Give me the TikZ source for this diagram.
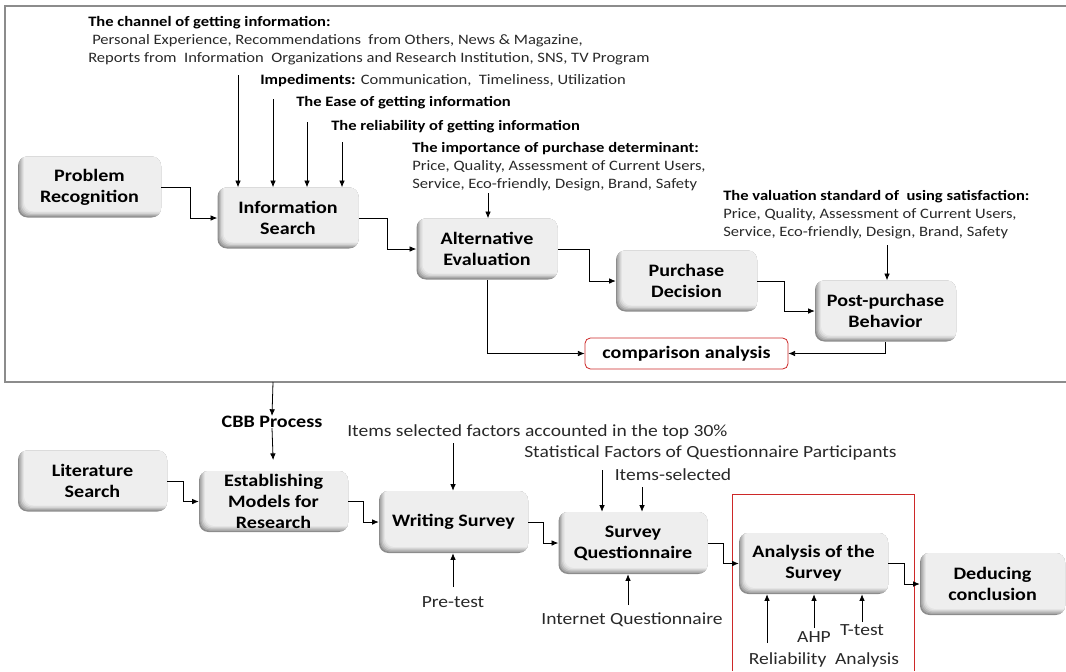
\documentclass[tikz,border=0pt]{standalone}
\usepackage{fontspec}
\setmainfont{Carlito}[FakeStretch=1.15]
\usetikzlibrary{arrows.meta,calc}
\definecolor{framegray}{RGB}{140,140,140}
\definecolor{redline}{RGB}{205,40,40}
\definecolor{anntext}{RGB}{40,40,40}
\newcommand\myBoxFont{\fontsize{13.1pt}{15.6pt}\selectfont\bfseries}
\newcommand\myAnnFont{\fontsize{10.8pt}{13.6pt}\selectfont}
\newcommand\myBigAnnFont{\fontsize{12.75pt}{16pt}\selectfont}
\begin{document}
\begin{tikzpicture}[x=0.75pt,y=-0.75pt,
  stepbox/.style={rounded corners=7pt, fill=black!45, inner sep=0pt, align=center,
    font=\myBoxFont, text=black,
    path picture={
      \foreach \k/\c in {1.2/34,2.4/25,3.6/17,4.8/11,6/6.5}{
        \fill[black!\c, rounded corners=7pt]
          ($(path picture bounding box.south west)+(\k,-\k)$) rectangle
          ($(path picture bounding box.north east)+(30,-30)$);
      }
    }},
  topbox/.style={stepbox, minimum width=105.75pt, minimum height=45.75pt},
  botbox/.style={stepbox, minimum width=111.75pt, minimum height=45.75pt},
  redbox/.style={draw=redline, line width=0.6pt, rounded corners=4pt, fill=white,
    minimum width=152.25pt, minimum height=23.25pt, font=\myBoxFont, inner sep=0pt},
  ann/.style={inner sep=0pt, font=\myAnnFont, text=anntext, align=left},
  bigann/.style={inner sep=0pt, font=\myBigAnnFont, text=anntext},
  arr/.style={draw=black, line width=0.6pt, -{Latex[length=5pt,width=4.2pt]}},
  frameline/.style={draw=framegray, line width=1pt}
]
\useasboundingbox (0,0) rectangle (1066,671);

% outer frame of the upper part
\draw[frameline] (1066,6) -- (5,6) -- (5,382) -- (1066,382);
\coordinate (cbbtop) at (273,382);

% upper boxes
\node[topbox, minimum width=107.25pt] (prob) at (89.5,187) {Problem\\Recognition};
\node[topbox] (info) at (288,218) {Information\\Search};
\node[topbox] (alt) at (487,249) {Alternative\\Evaluation};
\node[topbox] (pur) at (686.5,281) {Purchase\\Decision};
\node[topbox] (post) at (885.5,311) {Post-purchase\\Behavior};
\node[redbox] (comp) at (686.5,353.5) {comparison analysis};

% upper annotations
\node[ann, anchor=west] (chan) at (88,40.5)
  {\textbf{\textcolor{black}{The channel of getting information:}}\\
   \hspace*{3pt}Personal Experience, Recommendations\ \ from Others, News \& Magazine,\\
   Reports from\ \ Information\ \ Organizations and Research Institution, SNS, TV Program};
\node[ann, anchor=west] (imped) at (260,81)
  {\textbf{\textcolor{black}{Impediments:}} Communication,\ \ Timeliness, Utilization};
\node[ann, anchor=west, font=\myAnnFont\bfseries, text=black] (ease) at (296,103)
  {The Ease of getting information};
\node[ann, anchor=west, font=\myAnnFont\bfseries, text=black] (relia) at (331,127)
  {The reliability of getting information};
\node[ann, anchor=west] (impo) at (412,167)
  {\textbf{\textcolor{black}{The importance of purchase determinant:}}\\
   Price, Quality, Assessment of Current Users,\\
   Service, Eco-friendly, Design, Brand, Safety};
\node[ann, anchor=west] (valu) at (723,215)
  {\textbf{\textcolor{black}{The valuation standard of\ \ using satisfaction:}}\\
   Price, Quality, Assessment of Current Users,\\
   Service, Eco-friendly, Design, Brand, Safety};

% arrow start points (upper)
\coordinate (a1) at (238,75);
\coordinate (a2) at (273,99);
\coordinate (a3) at (307,122);
\coordinate (a4) at (342,142);
\coordinate (impa) at (488,193);
\coordinate (vala) at (887,245);

\draw[arr] (a1) -- (a1 |- info.north);
\draw[arr] (a2) -- (a2 |- info.north);
\draw[arr] (a3) -- (a3 |- info.north);
\draw[arr] (a4) -- (a4 |- info.north);
\draw[arr] (impa) -- (impa |- alt.north);
\draw[arr] (vala) -- (vala |- post.north);

% upper flow
\draw[arr] (prob.east) -- ++(29,0) |- (info.west);
\draw[arr] (info.east) -- ++(29,0) |- (alt.west);
\draw[arr] (alt.east) -- ++(32,0) |- (pur.west);
\draw[arr] (pur.east) -- ++(27,0) |- (post.west);
\draw[arr] (alt.south) |- (comp.west);
\draw[arr] (post.south) |- (comp.east);

% lower part
\node[inner sep=0pt, font=\myBoxFont] (cbb) at (272,422) {CBB Process};
\node[botbox] (lit) at (92.5,481) {Literature\\Search};
\node[botbox] (est) at (273.5,501.5) {Establishing\\Models for\\Research};
\node[botbox, minimum height=46.5pt] (writ) at (453.5,522) {Writing Survey};
\node[botbox, minimum height=46.5pt] (sq) at (633,543) {Survey\\Questionnaire};
\node[botbox] (an) at (813.5,563.5) {Analysis of the\\Survey};
\node[botbox, minimum width=108.75pt, minimum height=46.5pt] (ded) at (992.5,584) {Deducing\\conclusion};

% red frame around analysis
\draw[draw=redline, line width=0.6pt] (732,671) -- (732,494) -- (914,494) -- (914,671);

% lower annotations
\node[bigann, anchor=west] (itop) at (347,432) {Items selected factors accounted in the top 30\%};
\node[bigann, anchor=west] (stat) at (524,453) {Statistical Factors of Questionnaire Participants};
\node[bigann] (isel) at (673,475) {Items-selected};
\node[bigann] (pret) at (453,602) {Pre-test};
\node[bigann] (inet) at (632,620) {Internet Questionnaire};
\node[bigann] (ahp) at (814,637) {AHP};
\node[bigann] (ttest) at (862,630) {T-test};
\node[bigann] (relan) at (824,660) {Reliability\ \ Analysis};

\coordinate (i1) at (453,443);
\coordinate (s1) at (602,470);
\coordinate (s2) at (642,487);
\coordinate (p1) at (453,587);
\coordinate (n1) at (628,605);
\coordinate (r1) at (767,643);
\coordinate (h1) at (814,628);
\coordinate (t1) at (862,622);

\draw[arr] (cbbtop) -- (cbb.north);
\draw[arr, shorten >=8pt] (cbb.south) -- (est.north);
\draw[arr] (i1) -- (i1 |- writ.north);
\draw[arr] (s1) -- (s1 |- sq.north);
\draw[arr] (s2) -- (s2 |- sq.north);
\draw[arr] (p1) -- (p1 |- writ.south);
\draw[arr] (n1) -- (n1 |- sq.south);
\draw[arr] (r1) -- (r1 |- an.south);
\draw[arr] (h1) -- (h1 |- an.south);
\draw[arr] (t1) -- (t1 |- an.south);

% lower flow
\draw[arr] (lit.east) -- ++(16,0) |- (est.west);
\draw[arr] (est.east) -- ++(15,0) |- (writ.west);
\draw[arr] (writ.east) -- ++(15,0) |- (sq.west);
\draw[arr] (sq.east) -- ++(16,0) |- (an.west);
\draw[arr] (an.east) -- ++(16,0) |- (ded.west);
\end{tikzpicture}
\end{document}
